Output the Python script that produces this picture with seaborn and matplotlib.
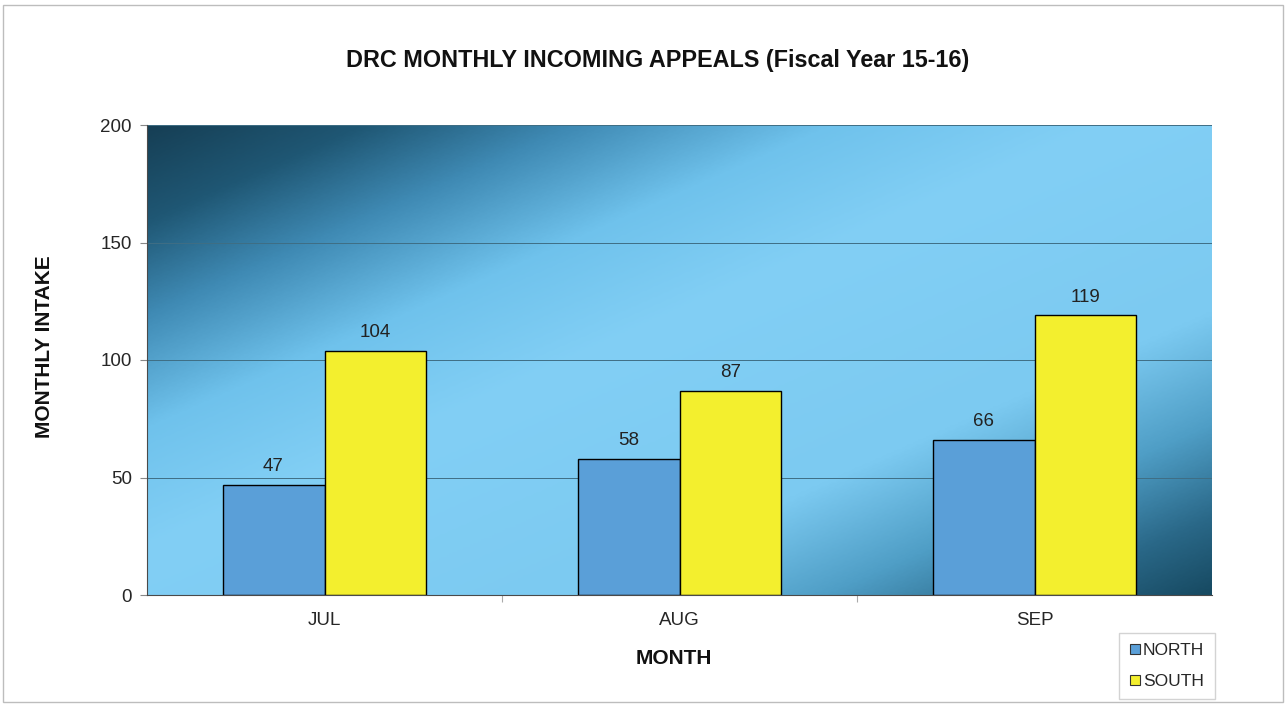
import matplotlib
matplotlib.use("Agg")
import matplotlib.pyplot as plt
from matplotlib.colors import LinearSegmentedColormap
from matplotlib.patches import Rectangle
import seaborn as sns
import numpy as np
import pandas as pd

# chart data
months = ["JUL", "AUG", "SEP"]
north = [47, 58, 66]
south = [104, 87, 119]
regions = ["NORTH", "SOUTH"]
y_ticks = [0, 50, 100, 150, 200]

df = pd.DataFrame({
    "month": months * 2,
    "region": ["NORTH"] * len(months) + ["SOUTH"] * len(months),
    "intake": north + south,
})

sns.set_style("white")
plt.rcParams["font.family"] = ["Liberation Sans", "DejaVu Sans"]

fig = plt.figure(figsize=(12.86, 7.04), dpi=100)
ax = fig.add_axes([147 / 1286, 1 - 595 / 704, 1065 / 1286, 470 / 704])

# diagonal gradient background (dark corners, light middle)
bg = LinearSegmentedColormap.from_list("bg", [
    (0.00, "#163f55"),
    (0.10, "#1f5774"),
    (0.20, "#3f8ab4"),
    (0.32, "#6fc2ec"),
    (0.45, "#82cff5"),
    (0.70, "#7ccaf1"),
    (0.82, "#4f9ec6"),
    (0.92, "#2a6888"),
    (1.00, "#174a62"),
])
u, v = np.meshgrid(np.linspace(0, 1, 400), np.linspace(0, 1, 300))
ax.imshow((u + v) / 2, cmap=bg, extent=[0, 1, 0, 1], transform=ax.transAxes,
          aspect="auto", zorder=0, interpolation="bilinear")

sns.barplot(data=df, x="month", y="intake", hue="region",
            palette={"NORTH": "#5a9fd8", "SOUTH": "#f3ef2e"},
            width=0.574, edgecolor="black", linewidth=1.0, saturation=1,
            legend=False, ax=ax, zorder=2)

for cont in ax.containers:
    ax.bar_label(cont, padding=7, fontsize=13.5, color="#222222")

ax.set_xlim(-0.5, 2.5)
ax.set_ylim(0, 200)
ax.set_yticks(y_ticks)
ax.yaxis.grid(True, color="#3f6e84", linewidth=0.7)
ax.set_axisbelow(True)
ax.set_xlabel("")
ax.set_ylabel("")

for side in ["top", "right"]:
    ax.spines[side].set_visible(False)
ax.spines["left"].set_color("#4a4a4a")
ax.spines["bottom"].set_color("#4a4a4a")

ax.tick_params(axis="y", length=5, width=0.8, color="#888888", labelsize=13.5,
               pad=6, left=True)
ax.set_xticks([0.5, 1.5], minor=True)
ax.tick_params(axis="x", which="major", length=0, labelsize=13.5, pad=12)
ax.tick_params(axis="x", which="minor", length=5, width=0.8, color="#aaaaaa",
               bottom=True)

fig.text(658 / 1286, 1 - 60 / 704, "DRC MONTHLY INCOMING APPEALS (Fiscal Year 15-16)",
         ha="center", va="center", fontsize=16.8, fontweight="bold", color="#111111")
fig.text(45 / 1286, 1 - 347 / 704, "MONTHLY INTAKE", rotation=90,
         ha="center", va="center", fontsize=15, fontweight="bold", color="#111111")
fig.text(674 / 1286, 1 - 659 / 704, "MONTH",
         ha="center", va="center", fontsize=15, fontweight="bold", color="#111111")

handles = [plt.Line2D([], [], marker="s", linestyle="", markersize=7,
                      markerfacecolor=c, markeredgecolor="#333333", markeredgewidth=0.8)
           for c in ["#5a9fd8", "#f3ef2e"]]
leg = fig.legend(handles, regions, loc="center",
                 bbox_to_anchor=(1167 / 1286, 1 - 666 / 704),
                 fontsize=12.5, frameon=True, fancybox=False,
                 handlelength=0.6, handletextpad=0.15, labelspacing=0.9,
                 borderpad=0.6, borderaxespad=0, edgecolor="#c8c8c8")
leg.get_frame().set_linewidth(1.0)

# outer chart border
fig.patches.append(Rectangle((3 / 1286, 2 / 704), 1280 / 1286, 697 / 704,
                             transform=fig.transFigure, fill=False,
                             edgecolor="#bdbdbd", linewidth=1.0))

fig.savefig("out.png", dpi=100)
